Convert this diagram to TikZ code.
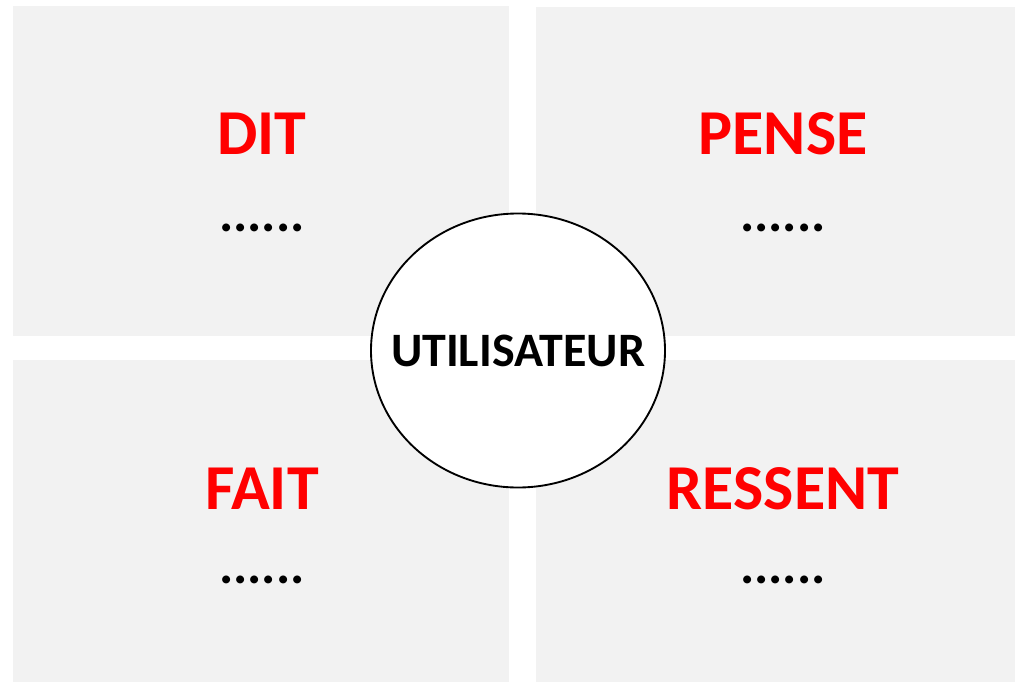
\documentclass[tikz,border=0pt]{standalone}
\usepackage{fontspec}
\setmainfont{Carlito}
\usepackage{tikz}
\usetikzlibrary{positioning}
\definecolor{panelgray}{HTML}{F2F2F2}
\definecolor{titlered}{HTML}{FF0000}

\begin{document}
\begin{tikzpicture}[
x=0.75pt, y=-0.75pt,
title/.style={
anchor=base,
text=titlered,
font=\fontsize{48}{56}\selectfont\bfseries
},
dots/.style={
anchor=base,
font=\fontsize{40}{48}\selectfont\bfseries
},
user/.style={
inner sep=0pt,
font=\fontsize{36}{42}\selectfont\bfseries
}
]
\useasboundingbox (0,0) rectangle (1015,682);

% the four quadrants
\fill[panelgray] (13,6) rectangle (509,336);
\fill[panelgray] (536,7) rectangle (1015,336);
\fill[panelgray] (13,360) rectangle (509,682);
\fill[panelgray] (536,360) rectangle (1015,682);

\node[title] (dit) at (262,154) {DIT};
\node[dots, below=58pt of dit.base, anchor=base] (ditdots) {......};

\node[title] (pense) at (783,154) {PENSE};
\node[dots, below=58pt of pense.base, anchor=base] (pensedots) {......};

\node[title] (fait) at (262,509) {FAIT};
\node[dots, below=56pt of fait.base, anchor=base] (faitdots) {......};

\node[title] (ressent) at (783,509) {RESSENT};
\node[dots, below=56pt of ressent.base, anchor=base] (ressentdots) {......};

% centre
\coordinate (centre) at (518,350.5);
\filldraw[fill=white, draw=black, line width=1.4pt]
  (centre) ellipse [x radius=110.25pt, y radius=102.75pt];
\node[user] (user) at (centre) {UTILISATEUR};

\end{tikzpicture}
\end{document}
